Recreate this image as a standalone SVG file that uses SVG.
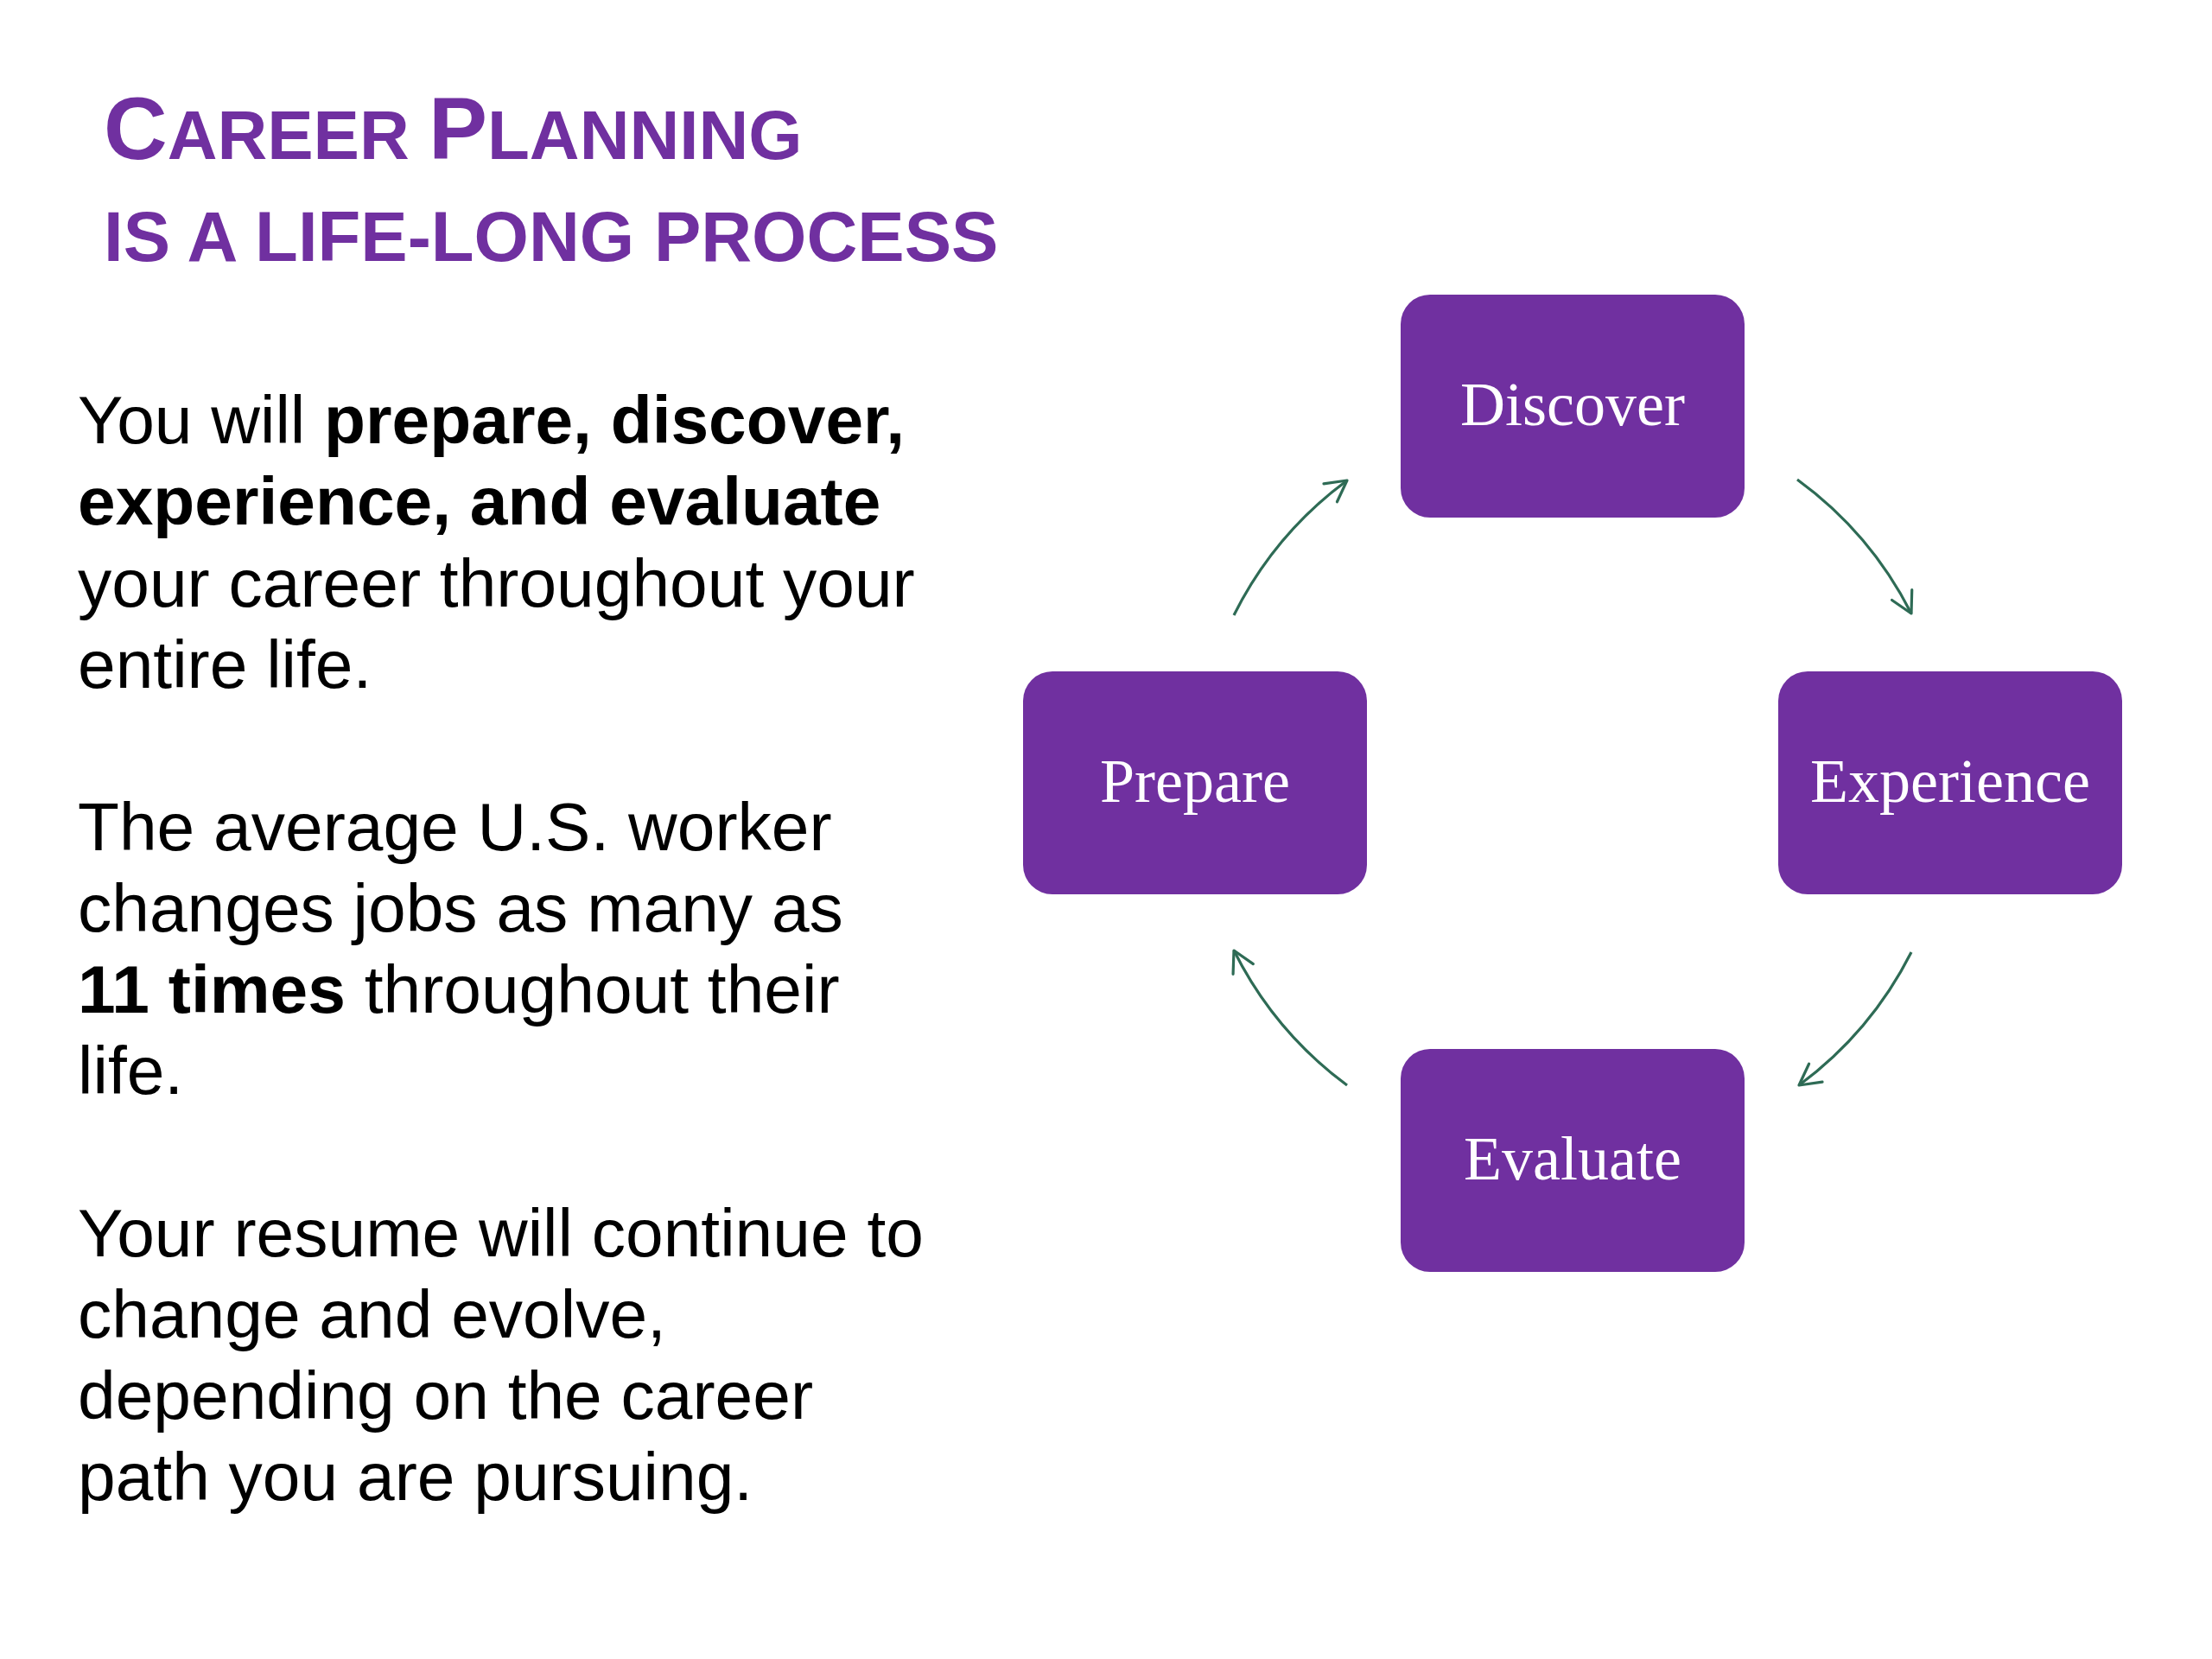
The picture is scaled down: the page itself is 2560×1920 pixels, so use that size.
<svg xmlns="http://www.w3.org/2000/svg" width="2560" height="1920" viewBox="0 0 2560 1920">
<style>
.title{font-family:"Liberation Sans",Arial,sans-serif;font-weight:bold;fill:#7030a0}
.body{font-family:"Liberation Sans",Arial,sans-serif;font-size:78.5px;fill:#000}
.b{font-weight:bold}
.box{fill:#7030a0}
.lbl{font-family:"Liberation Serif","Times New Roman",serif;font-size:72px;fill:#fff;text-anchor:middle}
.conn{fill:none;stroke:#2e6b55;stroke-width:3.2}
</style>
<defs>
<marker id="arr" markerUnits="userSpaceOnUse" markerWidth="40" markerHeight="40" viewBox="-30 -20 40 40" refX="0" refY="0" orient="auto">
<path d="M -24 -13 L 0 0 L -24 13" fill="none" stroke="#2e6b55" stroke-width="3.2" stroke-linecap="round" stroke-linejoin="round"/>
</marker>
</defs>
<rect width="2560" height="1920" fill="#fff"/>
<g id="title">
<text class="title" x="120" y="184"><tspan font-size="102">C</tspan><tspan font-size="80">AREER </tspan><tspan font-size="102">P</tspan><tspan font-size="80">LANNING</tspan></text>
<text class="title" x="120" y="302" font-size="81.5">IS A LIFE-LONG PROCESS</text>
</g>
<g id="text-body">
<text class="body" x="90" y="513">You will <tspan class="b">prepare, discover,</tspan></text>
<text class="body b" x="90" y="607">experience, and evaluate</text>
<text class="body" x="90" y="702">your career throughout your</text>
<text class="body" x="90" y="796">entire life.</text>
<text class="body" x="90" y="984">The average U.S. worker</text>
<text class="body" x="90" y="1078">changes jobs as many as</text>
<text class="body" x="90" y="1172"><tspan class="b">11 times</tspan> throughout their</text>
<text class="body" x="90" y="1266">life.</text>
<text class="body" x="90" y="1454">Your resume will continue to</text>
<text class="body" x="90" y="1548">change and evolve,</text>
<text class="body" x="90" y="1642">depending on the career</text>
<text class="body" x="90" y="1736">path you are pursuing.</text>
</g>
<g id="connectors">
<path class="conn" d="M 1428 712 A 436 436 0 0 1 1559 556" marker-end="url(#arr)"/>
<path class="conn" d="M 2080 555 A 436 436 0 0 1 2212 710" marker-end="url(#arr)"/>
<path class="conn" d="M 2212 1102 A 436 436 0 0 1 2082 1256" marker-end="url(#arr)"/>
<path class="conn" d="M 1559 1256 A 436 436 0 0 1 1428 1100" marker-end="url(#arr)"/>
</g>
<g id="node-discover">
<rect class="box" x="1621" y="341" width="398" height="258" rx="34"/>
<text class="lbl" x="1820" y="492">Discover</text>
</g>
<g id="node-experience">
<rect class="box" x="2058" y="777" width="398" height="258" rx="34"/>
<text class="lbl" x="2257" y="928">Experience</text>
</g>
<g id="node-evaluate">
<rect class="box" x="1621" y="1214" width="398" height="258" rx="34"/>
<text class="lbl" x="1820" y="1365">Evaluate</text>
</g>
<g id="node-prepare">
<rect class="box" x="1184" y="777" width="398" height="258" rx="34"/>
<text class="lbl" x="1383" y="928">Prepare</text>
</g>
</svg>
